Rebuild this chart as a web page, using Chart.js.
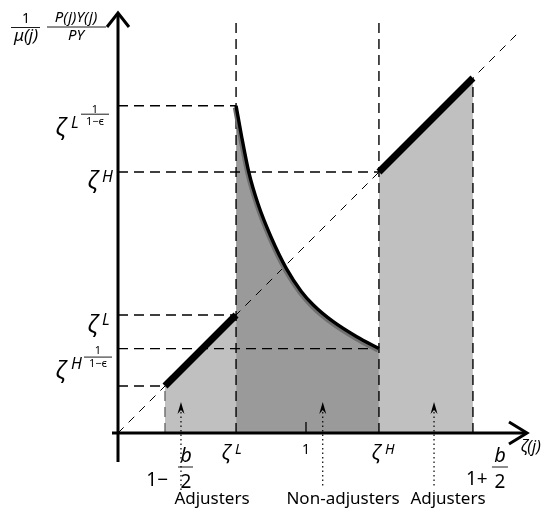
<!DOCTYPE html>
<html>
<head>
<meta charset="utf-8">
<script src="https://cdn.jsdelivr.net/npm/chart.js@4.4.1/dist/chart.umd.min.js"></script>
<style>
html, body { margin: 0; padding: 0; background: #fff; }
#wrap { width: 556px; height: 512px; position: relative; }
</style>
</head>
<body>
<div id="wrap"><canvas id="diagram"></canvas></div>
<script>
// points on the zeta(j) axis: 1-b/2, zeta L, 1, zeta H, 1+b/2
const xTicks = [0.25, 0.628, 1.0, 1.388, 1.888];
// levels marked on the vertical axis: zL^(1/(1-e)), zH, zL, zH^(1/(1-e)), 1-b/2
const yTicks = [1.741, 1.388, 0.628, 0.449, 0.25];

// adjusters sit on the 45 degree line
const lowAdjX = [0.25, 0.628];
const lowAdjY = [0.25, 0.628];
const highAdjX = [1.388, 1.888];
const highAdjY = [1.388, 1.888];

// non-adjusters
const curveX = [0.628, 0.657, 0.696, 0.745, 0.815, 0.895, 0.975, 1.039, 1.145, 1.270, 1.388];
const curveY = [1.741, 1.580, 1.386, 1.218, 1.040, 0.876, 0.753, 0.681, 0.592, 0.512, 0.449];

const diagX = [0, 2.14];
const diagY = [0, 2.14];

const groupLabels = ['Adjusters', 'Non-adjusters', 'Adjusters'];
const groupX = [0.335, 1.089, 1.681];

const vTop = 2.21;
const fam = '"Noto Sans", "DejaVu Sans", sans-serif';

function pts(xs, ys) {
  return xs.map((x, i) => ({ x: x, y: ys[i] }));
}

function guide(data, color) {
  return {
    data: data, borderColor: color || '#000', borderWidth: 1.4,
    borderDash: [10, 6], fill: false, order: 3
  };
}

const zL = xTicks[1], zH = xTicks[3];

let datasets = [
  // shaded areas
  { data: pts(lowAdjX, lowAdjY), fill: 'origin', backgroundColor: '#c0c0c0', borderWidth: 0, order: 6 },
  { data: pts(highAdjX, highAdjY), fill: 'origin', backgroundColor: '#c0c0c0', borderWidth: 0, order: 6 },
  { data: pts(curveX, curveY), fill: 'origin', backgroundColor: '#9a9a9a', borderWidth: 0,
    cubicInterpolationMode: 'monotone', order: 5 },
  // dashed guides
  guide([{ x: xTicks[0], y: 0 }, { x: xTicks[0], y: yTicks[4] }], '#6a6a6a'),
  guide([{ x: zL, y: 0 }, { x: zL, y: vTop }]),
  guide([{ x: zH, y: 0 }, { x: zH, y: vTop }]),
  guide([{ x: xTicks[4], y: 0 }, { x: xTicks[4], y: highAdjY[1] }]),
  guide([{ x: 0, y: yTicks[0] }, { x: zL, y: yTicks[0] }]),
  guide([{ x: 0, y: yTicks[1] }, { x: zH, y: yTicks[1] }]),
  guide([{ x: 0, y: yTicks[2] }, { x: zL, y: yTicks[2] }]),
  guide([{ x: 0, y: yTicks[3] }, { x: zH, y: yTicks[3] }]),
  guide([{ x: 0, y: yTicks[4] }, { x: xTicks[0], y: yTicks[4] }]),
  { data: pts(diagX, diagY), borderColor: '#000', borderWidth: 1, borderDash: [8, 7], fill: false, order: 3 },
  // curve shadow + curve
  { data: pts(curveX, curveY), borderColor: '#6f6f6f', borderWidth: 4.5, fill: false,
    cubicInterpolationMode: 'monotone', shift: true, order: 2 },
  { data: pts(curveX, curveY), borderColor: '#000', borderWidth: 3.4, fill: false,
    cubicInterpolationMode: 'monotone', order: 1 },
  // thick adjuster segments
  { data: pts(lowAdjX, lowAdjY), borderColor: '#000', borderWidth: 7, fill: false, order: 1 },
  { data: pts(highAdjX, highAdjY), borderColor: '#000', borderWidth: 7, fill: false, order: 1 }
];

function txt(ctx, s, x, y, size, italic, align) {
  ctx.font = (italic ? 'italic ' : '') + size + 'px ' + fam;
  ctx.textAlign = align || 'left';
  ctx.textBaseline = 'alphabetic';
  ctx.fillText(s, x, y);
}

function bar(ctx, x1, x2, y) {
  ctx.beginPath();
  ctx.lineWidth = 0.9;
  ctx.moveTo(x1, y);
  ctx.lineTo(x2, y);
  ctx.stroke();
}

// shift the grey shadow of the curve a bit down-left
const shadowShift = {
  id: 'shadowShift',
  beforeDatasetDraw(chart, args) {
    if (chart.data.datasets[args.index].shift) {
      chart.ctx.save();
      chart.ctx.translate(-1, 1.8);
    }
  },
  afterDatasetDraw(chart, args) {
    if (chart.data.datasets[args.index].shift) chart.ctx.restore();
  }
};

// axes, arrows and all the text
const decorations = {
  id: 'decorations',
  afterDraw(chart) {
    const ctx = chart.ctx;
    const X = v => chart.scales.x.getPixelForValue(v);
    const Y = v => chart.scales.y.getPixelForValue(v);
    const x0 = X(0), y0 = Y(0);
    ctx.save();
    ctx.strokeStyle = '#000';
    ctx.fillStyle = '#000';

    // axes
    ctx.lineWidth = 3;
    ctx.lineCap = 'butt';
    ctx.beginPath();
    ctx.moveTo(x0, 462); ctx.lineTo(x0, 14);
    ctx.moveTo(112, y0); ctx.lineTo(526, y0);
    ctx.stroke();
    ctx.lineJoin = 'miter';
    ctx.beginPath();
    ctx.moveTo(x0 - 11, 27); ctx.lineTo(x0, 13); ctx.lineTo(x0 + 11, 27);
    ctx.moveTo(509, y0 - 11); ctx.lineTo(527, y0); ctx.lineTo(509, y0 + 11);
    ctx.stroke();

    // tick at 1
    ctx.lineWidth = 1.3;
    ctx.beginPath();
    ctx.moveTo(X(xTicks[2]), y0 - 11); ctx.lineTo(X(xTicks[2]), y0);
    ctx.stroke();

    // group arrows with dotted stems
    groupX.forEach((g, i) => {
      const gx = X(g);
      ctx.beginPath();
      ctx.moveTo(gx, 402); ctx.lineTo(gx - 3.5, 414); ctx.lineTo(gx, 410); ctx.lineTo(gx + 3.5, 414);
      ctx.closePath();
      ctx.fill();
      ctx.setLineDash([1.5, 3]);
      ctx.lineWidth = 1.2;
      ctx.beginPath();
      ctx.moveTo(gx, 412); ctx.lineTo(gx, i === 0 ? 490 : 486);
      ctx.stroke();
      ctx.setLineDash([]);
    });
    txt(ctx, groupLabels[0], 212, 504, 17, false, 'center');
    txt(ctx, groupLabels[1], 343, 504, 17, false, 'center');
    txt(ctx, groupLabels[2], 448, 504, 17, false, 'center');

    // vertical axis title
    txt(ctx, '1', 26, 23, 14, false, 'center');
    bar(ctx, 11, 40, 27.5);
    txt(ctx, 'μ(j)', 26, 41, 17, true, 'center');
    txt(ctx, 'P(j)Y(j)', 76, 22, 15, true, 'center');
    bar(ctx, 47, 106, 27);
    txt(ctx, 'PY', 76, 40, 15, true, 'center');

    // y labels
    let yp = Y(yTicks[0]);
    txt(ctx, 'ζ', 56, yp + 29, 23, true);
    txt(ctx, 'L', 71, yp + 22, 16, true);
    txt(ctx, '1', 95, yp + 7, 11, false, 'center');
    bar(ctx, 81, 109, yp + 8.5);
    txt(ctx, '1−ϵ', 95, yp + 19, 11, false, 'center');

    yp = Y(yTicks[1]);
    txt(ctx, 'ζ', 88, yp + 16, 23, true);
    txt(ctx, 'H', 102, yp + 9.5, 16, true);

    yp = Y(yTicks[2]);
    txt(ctx, 'ζ', 88, yp + 17, 23, true);
    txt(ctx, 'L', 102, yp + 10, 16, true);

    yp = Y(yTicks[3]);
    txt(ctx, 'ζ', 56, yp + 29, 23, true);
    txt(ctx, 'H', 71, yp + 20, 16, true);
    txt(ctx, '1', 98, yp + 5.5, 11, false, 'center');
    bar(ctx, 84, 112, yp + 8.5);
    txt(ctx, '1−ϵ', 98, yp + 18.5, 11, false, 'center');

    // x labels
    let xp = X(xTicks[0]);
    txt(ctx, '1−', xp + 3, 486, 19, false, 'right');
    txt(ctx, 'b', xp + 21, 462, 20, true, 'center');
    bar(ctx, xp + 13, xp + 28, 467);
    txt(ctx, '2', xp + 21, 488, 19, false, 'center');

    xp = X(xTicks[1]);
    txt(ctx, 'ζ', xp - 14, 459, 20, true);
    txt(ctx, 'L', xp - 1, 454, 14, true);

    txt(ctx, '1', X(xTicks[2]), 454, 14, false, 'center');

    xp = X(xTicks[3]);
    txt(ctx, 'ζ', xp - 7, 459, 20, true);
    txt(ctx, 'H', xp + 6, 454, 14, true);

    xp = X(xTicks[4]);
    txt(ctx, '1+', xp - 7, 485, 19, false);
    txt(ctx, 'b', xp + 27, 462, 20, true, 'center');
    bar(ctx, xp + 19, xp + 35, 467);
    txt(ctx, '2', xp + 27, 488, 19, false, 'center');

    txt(ctx, 'ζ(j)', 521, 452, 16, true);
    ctx.restore();
  }
};

new Chart(document.getElementById('diagram'), {
  type: 'line',
  data: { datasets: datasets },
  options: {
    responsive: true,
    maintainAspectRatio: false,
    animation: false,
    events: [],
    layout: { padding: { left: 80.4, right: 15, top: 0.6, bottom: 3.8 } },
    elements: { point: { radius: 0 }, line: { tension: 0 } },
    scales: {
      x: { type: 'linear', min: -0.2, max: 2.25, display: false },
      y: { type: 'linear', min: -0.4, max: 2.3, display: false }
    },
    plugins: { legend: { display: false }, tooltip: { enabled: false } }
  },
  plugins: [shadowShift, decorations]
});
</script>
</body>
</html>
